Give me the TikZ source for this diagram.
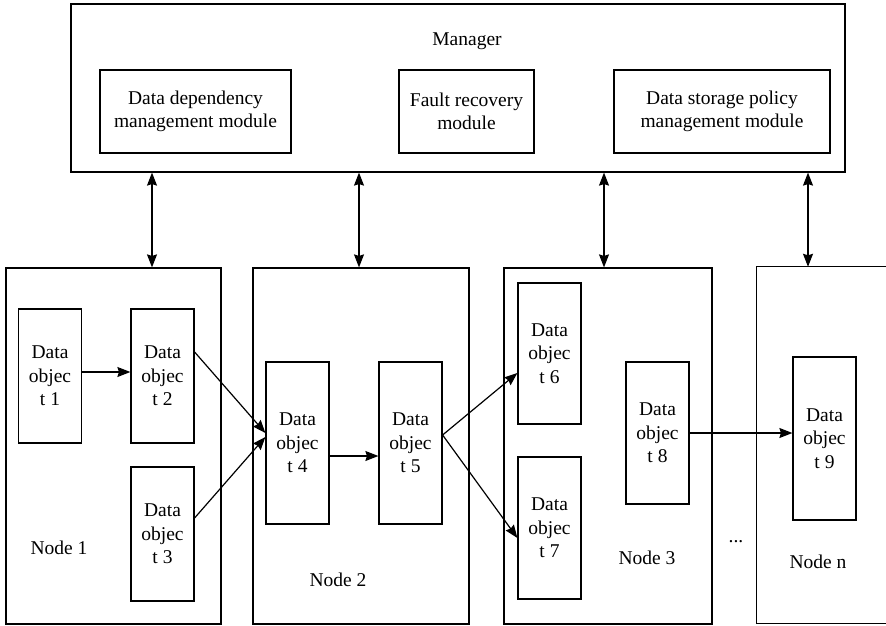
\documentclass[tikz,border=0pt]{standalone}
\usepackage{fontspec}
\setmainfont{Liberation Serif}
\usetikzlibrary{arrows.meta,calc}
\begin{document}
\begin{tikzpicture}[x=1pt,y=-1pt,
  every node/.style={font=\fontsize{19.5}{23.5}\selectfont},
  box/.style={draw, line width=1.2pt, inner sep=0pt, align=center},
  dobj/.style={box, minimum width=63pt, minimum height=134pt},
  lbl/.style={inner sep=0pt},
  arr/.style={line width=1.2pt, -{Stealth[length=13pt,width=10pt,inset=1.5pt]}},
  darr/.style={line width=1.2pt, {Stealth[length=13pt,width=10pt,inset=1.5pt]}-{Stealth[length=13pt,width=10pt,inset=1.5pt]}}
]
\useasboundingbox (0,0) rectangle (886,626);

% Manager
\node[box, minimum width=774pt, minimum height=168pt] (mgr) at (458,88) {};
\node[lbl] (mgrt) at (467,41) {Manager};
\node[box, minimum width=191pt, minimum height=83pt] (m1) at (195.5,111.5) {Data dependency\\management module};
\node[box, minimum width=135pt, minimum height=83pt] (m2) at (466.5,111.5) {Fault recovery\\module};
\node[box, minimum width=216pt, minimum height=83pt] (m3) at (722,111.5) {Data storage policy\\management module};

% Nodes
\node[box, minimum width=215pt, minimum height=356pt] (n1) at (113.5,446) {};
\node[box, minimum width=216pt, minimum height=356pt] (n2) at (361,446) {};
\node[box, minimum width=208pt, minimum height=356pt] (n3) at (608,446) {};
\node[inner sep=0pt, minimum width=129pt, minimum height=356pt] (nn) at (821.5,445) {};
\draw[line width=1.2pt] (nn.north east) -- (nn.north west) -- (nn.south west) -- (nn.south east);

\node[lbl] (n1t) at (59,548) {Node 1};
\node[lbl] (n2t) at (338,580) {Node 2};
\node[lbl] (n3t) at (647,558) {Node 3};
\node[lbl] (nnt) at (818,562) {Node n};
\node[lbl] (dots) at (736,542) {...};

% Data objects
\node[dobj] (d1) at (50,376) {Data\\objec\\t 1};
\node[dobj] (d2) at (162.5,376) {Data\\objec\\t 2};
\node[dobj] (d3) at (162.5,534) {Data\\objec\\t 3};
\node[dobj, minimum height=162pt] (d4) at (297.5,443) {Data\\objec\\t 4};
\node[dobj, minimum height=162pt] (d5) at (410.5,443) {Data\\objec\\t 5};
\node[dobj, minimum height=141pt] (d6) at (549.5,353.5) {Data\\objec\\t 6};
\node[dobj, minimum height=142pt] (d7) at (549.5,528) {Data\\objec\\t 7};
\node[dobj, minimum height=142pt] (d8) at (657.5,433) {Data\\objec\\t 8};
\node[dobj, minimum height=163pt] (d9) at (824.5,438.5) {Data\\objec\\t 9};

% Manager <-> nodes
\coordinate (c1) at (152,0);
\coordinate (c2) at (359,0);
\coordinate (c3) at (604,0);
\coordinate (c4) at (808,0);
\draw[darr] (c1 |- mgr.south) -- (c1 |- n1.north);
\draw[darr] (c2 |- mgr.south) -- (c2 |- n2.north);
\draw[darr] (c3 |- mgr.south) -- (c3 |- n3.north);
\draw[darr] (c4 |- mgr.south) -- (c4 |- nn.north);

% Data flow
\coordinate (a1) at ($(d1.east)+(0,-4)$);
\coordinate (a4) at ($(d4.east)+(0,13)$);
\draw[arr] (a1) -- (a1 -| d2.west);
\draw[arr] ($(d2.east)+(0,-24)$) -- ($(d4.west)+(0,-10)$);
\draw[arr] ($(d3.east)+(0,-16)$) -- ($(d4.west)+(0,-6)$);
\draw[arr] (a4) -- (a4 -| d5.west);
\draw[arr] ($(d5.east)+(0,-8)$) -- ($(d6.west)+(0,19.5)$);
\draw[arr] ($(d5.east)+(0,-8)$) -- ($(d7.west)+(0,10)$);
\draw[arr] (d8.east) -- (d8.east -| d9.west);
\end{tikzpicture}
\end{document}
